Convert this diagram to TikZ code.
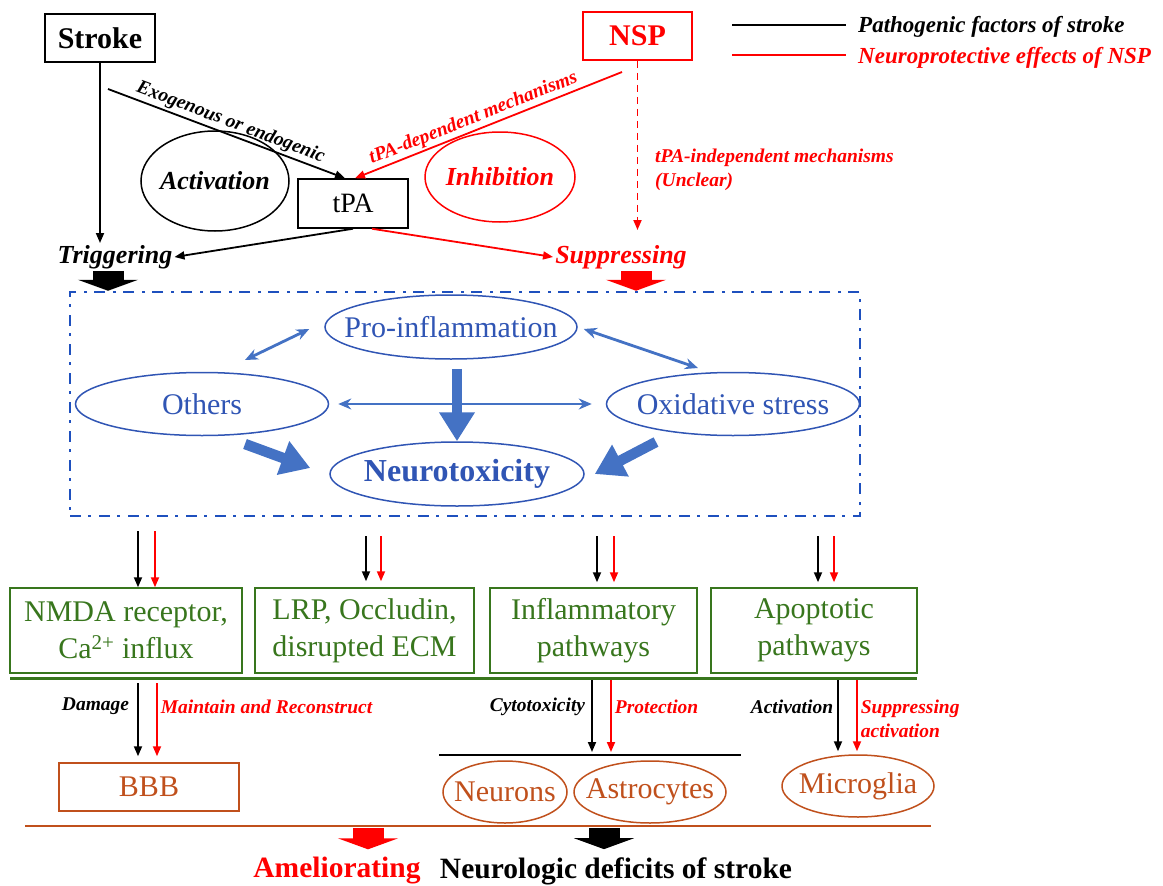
\documentclass[tikz,border=0pt]{standalone}
\usepackage{fontspec}
\setmainfont{Liberation Serif}
\usetikzlibrary{arrows.meta,shapes.geometric}
\definecolor{nspred}{HTML}{FF0000}
\definecolor{frameblue}{HTML}{1E50BE}
\definecolor{ovalblue}{HTML}{3055B4}
\definecolor{fatblue}{HTML}{4472C4}
\definecolor{pathgreen}{HTML}{38761D}
\definecolor{cellbrown}{HTML}{C0501C}

\begin{document}
\begin{tikzpicture}[x=1pt, y=-1pt,
  labbig/.style={font=\fontsize{30}{37}\selectfont},
  labmid/.style={font=\fontsize{26}{31}\selectfont\bfseries\itshape, inner sep=2pt},
  labsmall/.style={font=\fontsize{19.5}{24}\selectfont\bfseries\itshape, inner sep=2pt},
  lableg/.style={font=\fontsize{23}{28}\selectfont\bfseries\itshape, inner sep=0pt},
  box/.style={draw=#1, line width=1.5pt, minimum height=48pt, inner sep=0pt},
  ring/.style={ellipse, draw=#1, line width=1.5pt, inner sep=0pt},
  link/.style={-{Triangle[length=10pt, width=8pt]}, line width=1.8pt, draw=#1},
  dbl/.style={{Stealth[length=13pt, width=11pt]}-{Stealth[length=13pt, width=11pt]}, line width=2.8pt, draw=fatblue},
  fat/.style={-{Triangle[length=29pt, width=34pt]}, line width=10.5pt, draw=fatblue},
  block/.style={-{Triangle[length=11pt, width=60pt]}, line width=31pt, draw=#1}]
\useasboundingbox (0,0) rectangle (1163,886);

% ---- legend
\node[lableg, anchor=west] (legpath) at (858,27) {Pathogenic factors of stroke};
\node[lableg, anchor=west, text=nspred] (legnsp) at (858,58) {Neuroprotective effects of NSP};
\draw[line width=2.5pt] (732,25) -- (846,25);
\draw[nspred, line width=2.5pt] (732,55) -- (846,55);

% ---- stroke, NSP and tPA
\node[box=black, minimum width=110pt, labbig] (stroke) at (100,38) {\bfseries Stroke};
\node[box=nspred, minimum width=109pt, labbig, text=nspred] (nsp) at (637.5,36) {\bfseries NSP};
\node[box=black, minimum width=110pt, minimum height=49pt, font=\fontsize{28}{34}\selectfont] (tpa) at (353,203.5) {tPA};
\node[ring=black, minimum width=148pt, minimum height=100pt,
  label={[labmid]center:Activation}] (act) at (215,181) {};
\node[ring=nspred, minimum width=150pt, minimum height=90pt,
  label={[labmid, text=nspred]center:Inhibition}] (inh) at (500,177) {};
\node[labmid] (trig) at (115,257) {Triggering};
\node[labmid, text=nspred] (supp) at (621,257) {Suppressing};
\node[labsmall, text=nspred, anchor=west, align=left] (indep) at (653,170)
  {tPA-independent mechanisms\\(Unclear)};

\coordinate (exo) at (108,89);
\coordinate (dep) at (622,72);
\draw[link=black] (stroke.south) -- (stroke.south |- trig.north);
\draw[link=black] (exo) -- ([xshift=-8pt]tpa.north)
  node[midway, sloped, above, labsmall] {Exogenous or endogenic};
\draw[link=nspred] (dep) -- ([xshift=2pt]tpa.north)
  node[pos=.54, sloped, above, labsmall, text=nspred] {tPA-dependent mechanisms};
\draw[link=black] (tpa.south) -- (trig.east);
\draw[link=nspred] ([xshift=19pt]tpa.south) -- (supp.west);
\draw[link=nspred, dash pattern=on 7pt off 5pt, shorten >=13pt] (nsp.south) -- (nsp.south |- supp.north);

% ---- mechanisms frame
\node[draw=frameblue, line width=2.5pt, dash pattern=on 11pt off 7pt on 3pt off 8pt,
  minimum width=790pt, minimum height=224pt, inner sep=0pt] (frame) at (465,404) {};
\draw[block=black] ([xshift=-7pt]trig.south) -- ([xshift=-7pt]trig.south |- frame.north);
\draw[block=nspred] ([xshift=15pt]supp.south) -- ([xshift=15pt]supp.south |- frame.north);

\node[ring=ovalblue, minimum width=252pt, minimum height=64pt,
  label={[labbig, text=ovalblue]center:Pro-inflammation}] (pro) at (451,327) {};
\node[ring=ovalblue, minimum width=253pt, minimum height=63pt,
  label={[labbig, text=ovalblue]center:Others}] (others) at (202,404) {};
\node[ring=ovalblue, minimum width=253pt, minimum height=63pt,
  label={[labbig, text=ovalblue]center:Oxidative stress}] (oxi) at (733,404) {};
\node[ring=ovalblue, minimum width=254pt, minimum height=64pt,
  label={[font=\fontsize{32}{38}\selectfont\bfseries, text=ovalblue]center:Neurotoxicity}] (neuro) at (457,474) {};

\draw[dbl] ([shift={(43,-44)}]others.center) -- ([shift={(-15,2)}]pro.west);
\draw[dbl] ([shift={(6,2)}]pro.east) -- ([shift={(-35,-36)}]oxi.center);
\draw[dbl] ([xshift=9pt]others.east) -- ([xshift=-14pt]oxi.west);
\draw[fat] ([yshift=-9pt]neuro.north |- pro.south) -- (neuro.north);
\draw[fat] ([shift={(43,40)}]others.center) -- ([shift={(-19,-6)}]neuro.west);
\draw[fat] ([shift={(-77,38)}]oxi.center) -- ([xshift=10pt]neuro.east);

% ---- pathways
\node[box=pathgreen, minimum width=232pt, minimum height=85pt, align=center, labbig, text=pathgreen] (b1) at (126,630.5)
  {NMDA receptor,\\Ca\textsuperscript{2+} influx};
\node[box=pathgreen, minimum width=219pt, minimum height=85pt, align=center, labbig, text=pathgreen] (b2) at (364.5,630.5)
  {LRP, Occludin,\\disrupted ECM};
\node[box=pathgreen, minimum width=207pt, minimum height=85pt, align=center, labbig, text=pathgreen] (b3) at (593.5,630.5)
  {Inflammatory\\pathways};
\node[box=pathgreen, minimum width=206pt, minimum height=85pt, align=center, labbig, text=pathgreen] (b4) at (814,630.5)
  {Apoptotic\\pathways};

\draw[link=black, shorten <=14pt] ([xshift=12pt]b1.north |- frame.south) -- ([xshift=12pt]b1.north);
\draw[link=nspred, shorten <=14pt] ([xshift=29pt]b1.north |- frame.south) -- ([xshift=29pt]b1.north);
\draw[link=black, shorten <=19pt, shorten >=6pt] ([xshift=1.5pt]b2.north |- frame.south) -- ([xshift=1.5pt]b2.north);
\draw[link=nspred, shorten <=19pt, shorten >=6pt] ([xshift=16.5pt]b2.north |- frame.south) -- ([xshift=16.5pt]b2.north);
\draw[link=black, shorten <=19pt, shorten >=5pt] ([xshift=3.5pt]b3.north |- frame.south) -- ([xshift=3.5pt]b3.north);
\draw[link=nspred, shorten <=19pt, shorten >=5pt] ([xshift=20.5pt]b3.north |- frame.south) -- ([xshift=20.5pt]b3.north);
\draw[link=black, shorten <=19pt, shorten >=5pt] ([xshift=4pt]b4.north |- frame.south) -- ([xshift=4pt]b4.north);
\draw[link=nspred, shorten <=19pt, shorten >=5pt] ([xshift=20pt]b4.north |- frame.south) -- ([xshift=20pt]b4.north);

\coordinate (gl1) at (10,678);
\coordinate (gl2) at (917,678);
\draw[pathgreen, line width=3pt] (gl1) -- (gl2);

% ---- targets
\node[box=cellbrown, minimum width=180pt, labbig, text=cellbrown] (bbb) at (149,787) {BBB};
\node[ring=cellbrown, minimum width=124pt, minimum height=62pt,
  label={[labbig, text=cellbrown]center:Neurons}] (neur) at (505,792) {};
\node[ring=cellbrown, minimum width=152pt, minimum height=62pt,
  label={[labbig, text=cellbrown]center:Astrocytes}] (astro) at (650,792) {};
\node[ring=cellbrown, minimum width=152pt, minimum height=62pt,
  label={[labbig, text=cellbrown]center:Microglia}] (micro) at (858,786) {};

\coordinate (nl1) at (439,755);
\coordinate (nl2) at (741,755);
\draw[line width=2pt] (nl1) -- (nl2);

\draw[link=black, shorten <=5pt, shorten >=6pt] ([xshift=-11pt]bbb.north |- gl1) -- ([xshift=-11pt]bbb.north)
  node[pos=.34, left=6pt, labsmall] {Damage};
\draw[link=nspred, shorten <=5pt, shorten >=6pt] ([xshift=8pt]bbb.north |- gl1) -- ([xshift=8pt]bbb.north)
  node[pos=.34, right=1pt, labsmall, text=nspred] {Maintain and Reconstruct};
\draw[link=black, shorten <=2pt, shorten >=3pt] ([xshift=-1.5pt]b3.south |- gl1) -- ([xshift=-1.5pt]b3.south |- nl1)
  node[pos=.38, left=4pt, labsmall] {Cytotoxicity};
\draw[link=nspred, shorten <=2pt, shorten >=3pt] ([xshift=17.5pt]b3.south |- gl1) -- ([xshift=17.5pt]b3.south |- nl1)
  node[pos=.38, right=1pt, labsmall, text=nspred] {Protection};
\draw[link=black, shorten <=2pt, shorten >=3pt] ([xshift=-20pt]micro.north |- gl1) -- ([xshift=-20pt]micro.north)
  node[pos=.38, left=2pt, labsmall] {Activation};
\draw[link=nspred, shorten <=2pt, shorten >=3pt] ([xshift=-1pt]micro.north |- gl1) -- ([xshift=-1pt]micro.north)
  node[pos=.54, right=1pt, labsmall, text=nspred, align=left] {Suppressing\\activation};

% ---- outcome
\coordinate (br1) at (25,826);
\coordinate (br2) at (931,826);
\draw[cellbrown, line width=2pt] (br1) -- (br2);
\node[font=\fontsize{29.5}{35}\selectfont\bfseries, text=nspred, inner sep=0pt] (amel) at (337,871) {Ameliorating};
\node[font=\fontsize{29.5}{35}\selectfont\bfseries, inner sep=0pt] (deficit) at (616,871) {Neurologic deficits of stroke};
\draw[block=nspred, shorten <=2pt] ([xshift=31pt]amel.north |- br1) -- ([xshift=31pt, yshift=8pt]amel.north);
\draw[block=black, shorten <=2pt] ([xshift=-12pt]deficit.north |- br1) -- ([xshift=-12pt, yshift=8pt]deficit.north);
\end{tikzpicture}
\end{document}
